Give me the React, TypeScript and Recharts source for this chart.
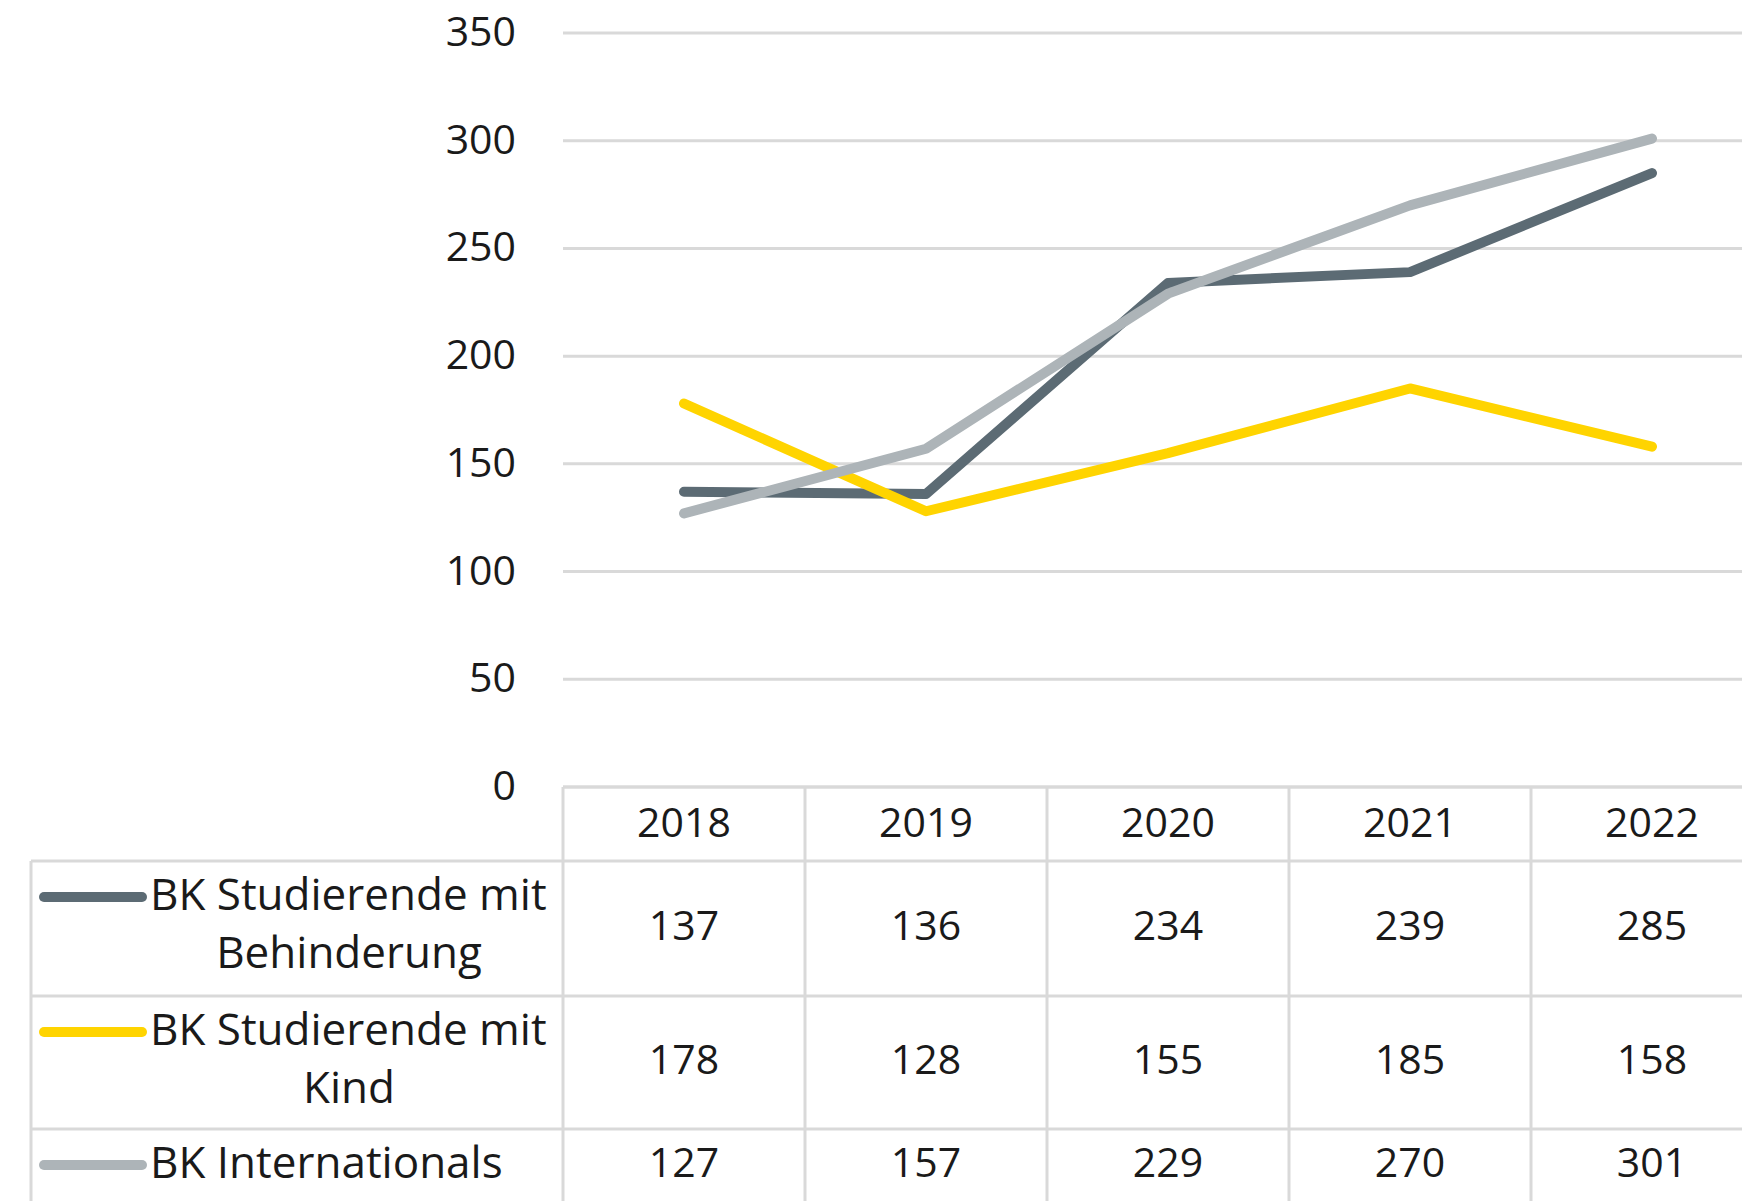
import React from "react";
import { LineChart, Line, XAxis, YAxis, CartesianGrid } from "recharts";

const years = ["2018", "2019", "2020", "2021", "2022"];
const behinderung = [137, 136, 234, 239, 285];
const kind = [178, 128, 155, 185, 158];
const internationals = [127, 157, 229, 270, 301];
const yTicks = [0, 50, 100, 150, 200, 250, 300, 350];

const seriesNames = [
  ["BK Studierende mit", "Behinderung"],
  ["BK Studierende mit", "Kind"],
  ["BK Internationals"],
];

const data = years.map((year, i) => ({
  year,
  behinderung: behinderung[i],
  kind: kind[i],
  internationals: internationals[i],
}));

const FONT = "'Open Sans', 'Noto Sans', sans-serif";
const TEXT = "#1a1a1a";
const RULE = "#d9d9d9";
const COLORS = { behinderung: "#5c6b74", kind: "#ffd400", internationals: "#adb4b8" };

const PLOT_LEFT = 563;
const CELL_W = 242;
const LABEL_LEFT = 31;
const PAD = { left: CELL_W / 2, right: CELL_W / 2 };

function YTick(props: any) {
  const { x, y, payload } = props;
  return (
    <text x={x} y={y - 3} textAnchor="end" dominantBaseline="central" fontSize={41} fontFamily={FONT} fill={TEXT}>
      {payload.value}
    </text>
  );
}

function HeaderTick(props: any) {
  const { x, y, payload } = props;
  const h = 74;
  return (
    <g>
      <line x1={x - CELL_W / 2} x2={x + CELL_W / 2} y1={y} y2={y} stroke={RULE} strokeWidth={3} />
      <line x1={x - CELL_W / 2} x2={x - CELL_W / 2} y1={y} y2={y + h} stroke={RULE} strokeWidth={3} />
      <text x={x} y={y + 34} textAnchor="middle" dominantBaseline="central" fontSize={41} fontFamily={FONT} fill={TEXT}>
        {payload.value}
      </text>
    </g>
  );
}

function makeRowTick(values: number[], label: string[], color: string, h: number) {
  return function RowTick(props: any) {
    const { x, y, index } = props;
    const left = x - CELL_W / 2;
    const oneLine = label.length === 1;
    return (
      <g>
        <line x1={left} x2={left + CELL_W} y1={y} y2={y} stroke={RULE} strokeWidth={3} />
        <line x1={left} x2={left} y1={y} y2={y + h} stroke={RULE} strokeWidth={3} />
        <text
          x={x}
          y={oneLine ? y + 32 : y + h / 2 - 5}
          textAnchor="middle"
          dominantBaseline="central"
          fontSize={41}
          fontFamily={FONT}
          fill={TEXT}
        >
          {values[index]}
        </text>
        {index === 0 && (
          <g>
            <line x1={LABEL_LEFT} x2={PLOT_LEFT} y1={y} y2={y} stroke={RULE} strokeWidth={3} />
            <line x1={LABEL_LEFT} x2={LABEL_LEFT} y1={y} y2={y + h} stroke={RULE} strokeWidth={3} />
            <line x1={44} x2={142} y1={y + 36} y2={y + 36} stroke={color} strokeWidth={10} strokeLinecap="round" />
            <text x={150} y={y + 32} dominantBaseline="central" fontSize={44} fontFamily={FONT} fill={TEXT}>
              {label[0]}
            </text>
            {label[1] && (
              <text x={349} y={y + 90} textAnchor="middle" dominantBaseline="central" fontSize={44} fontFamily={FONT} fill={TEXT}>
                {label[1]}
              </text>
            )}
          </g>
        )}
      </g>
    );
  };
}

const Row1Tick = makeRowTick(behinderung, seriesNames[0], COLORS.behinderung, 135);
const Row2Tick = makeRowTick(kind, seriesNames[1], COLORS.kind, 133);
const Row3Tick = makeRowTick(internationals, seriesNames[2], COLORS.internationals, 140);

export default function App() {
  return (
    <div
      style={{
        position: "absolute",
        left: 0,
        top: 0,
        width: 1742,
        height: 1201,
        overflow: "hidden",
        background: "#fff",
      }}
    >
      <LineChart
        width={PLOT_LEFT + CELL_W * years.length}
        height={33 + 754 + 74 + 135 + 133 + 140}
        data={data}
        margin={{ top: 33, right: 0, bottom: 0, left: 0 }}
      >
        <CartesianGrid horizontal vertical={false} stroke={RULE} strokeWidth={3} />
        <XAxis
          xAxisId="head"
          dataKey="year"
          height={74}
          padding={PAD}
          axisLine={false}
          tickLine={false}
          tickSize={0}
          tickMargin={0}
          interval={0}
          tick={<HeaderTick />}
        />
        <XAxis
          xAxisId="r1"
          dataKey="year"
          height={135}
          padding={PAD}
          axisLine={false}
          tickLine={false}
          tickSize={0}
          tickMargin={0}
          interval={0}
          tick={<Row1Tick />}
        />
        <XAxis
          xAxisId="r2"
          dataKey="year"
          height={133}
          padding={PAD}
          axisLine={false}
          tickLine={false}
          tickSize={0}
          tickMargin={0}
          interval={0}
          tick={<Row2Tick />}
        />
        <XAxis
          xAxisId="r3"
          dataKey="year"
          height={140}
          padding={PAD}
          axisLine={false}
          tickLine={false}
          tickSize={0}
          tickMargin={0}
          interval={0}
          tick={<Row3Tick />}
        />
        <YAxis
          domain={[0, 350]}
          ticks={yTicks}
          width={PLOT_LEFT}
          axisLine={false}
          tickLine={false}
          tickSize={0}
          tickMargin={47}
          interval={0}
          tick={<YTick />}
        />
        <Line
          xAxisId="head"
          dataKey="behinderung"
          stroke={COLORS.behinderung}
          strokeWidth={10}
          strokeLinecap="round"
          strokeLinejoin="round"
          dot={false}
          isAnimationActive={false}
        />
        <Line
          xAxisId="head"
          dataKey="kind"
          stroke={COLORS.kind}
          strokeWidth={10}
          strokeLinecap="round"
          strokeLinejoin="round"
          dot={false}
          isAnimationActive={false}
        />
        <Line
          xAxisId="head"
          dataKey="internationals"
          stroke={COLORS.internationals}
          strokeWidth={10}
          strokeLinecap="round"
          strokeLinejoin="round"
          dot={false}
          isAnimationActive={false}
        />
      </LineChart>
    </div>
  );
}
